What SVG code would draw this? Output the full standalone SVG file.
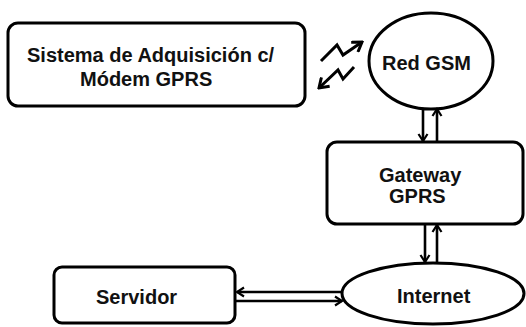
<svg xmlns="http://www.w3.org/2000/svg" width="526" height="327" viewBox="0 0 526 327">
  <style>
    .shape { fill: #fff; stroke: #000; stroke-width: 3; }
    .label { font-family: "Liberation Sans", Arial, sans-serif; font-weight: bold; font-size: 20px; fill: #111; }
    .link { fill: none; stroke: #000; stroke-width: 2.6; }
    .bolt { fill: none; stroke: #000; stroke-width: 3; stroke-linejoin: miter; }
  </style>
  <defs>
    <marker id="arrow" viewBox="0 0 12 12" refX="10" refY="6" markerWidth="12" markerHeight="12" markerUnits="userSpaceOnUse" orient="auto">
      <path d="M3,1.5 L10,6 L3,10.5" fill="none" stroke="#000" stroke-width="2.2"/>
    </marker>
    <marker id="bolt-head" viewBox="0 0 14 14" refX="12" refY="7" markerWidth="14" markerHeight="14" markerUnits="userSpaceOnUse" orient="auto">
      <path d="M3,1 L12,7 L3,13" fill="none" stroke="#000" stroke-width="3"/>
    </marker>
  </defs>
  <rect width="526" height="327" fill="#fff"/>

  <g id="acquisition">
    <rect class="shape" x="8" y="23" width="297" height="83" rx="10"/>
    <text class="label" x="27" y="62">Sistema de Adquisición c/</text>
    <text class="label" x="80" y="86">Módem GPRS</text>
  </g>

  <g id="red-gsm">
    <ellipse class="shape" cx="431" cy="61" rx="62" ry="48"/>
    <text class="label" x="382" y="70">Red GSM</text>
  </g>

  <g id="gateway">
    <rect class="shape" x="327" y="142" width="196" height="82" rx="10"/>
    <text class="label" x="379" y="182">Gateway</text>
    <text class="label" x="389" y="203">GPRS</text>
  </g>

  <g id="internet">
    <ellipse class="shape" cx="433" cy="293.5" rx="91" ry="30.5"/>
    <text class="label" x="397" y="303">Internet</text>
  </g>

  <g id="servidor">
    <rect class="shape" x="54" y="267" width="181" height="56" rx="8"/>
    <text class="label" x="96" y="304">Servidor</text>
  </g>

  <g id="connectors">
    <!-- radio link between modem and GSM network -->
    <polyline class="bolt" points="321,61 337,45 343,55 362,42" marker-end="url(#bolt-head)"/>
    <polyline class="bolt" points="354,67 343,79 338,70 319,88" marker-end="url(#bolt-head)"/>
    <!-- GSM network <-> gateway -->
    <line class="link" x1="423" y1="109" x2="423" y2="141" marker-end="url(#arrow)"/>
    <line class="link" x1="437" y1="141" x2="437" y2="109" marker-end="url(#arrow)"/>
    <!-- gateway <-> internet -->
    <line class="link" x1="425" y1="225" x2="425" y2="262" marker-end="url(#arrow)"/>
    <line class="link" x1="437" y1="263" x2="437" y2="225" marker-end="url(#arrow)"/>
    <!-- internet <-> server -->
    <line class="link" x1="342" y1="292" x2="237" y2="292" marker-end="url(#arrow)"/>
    <line class="link" x1="236" y1="301" x2="342" y2="301" marker-end="url(#arrow)"/>
  </g>
</svg>
